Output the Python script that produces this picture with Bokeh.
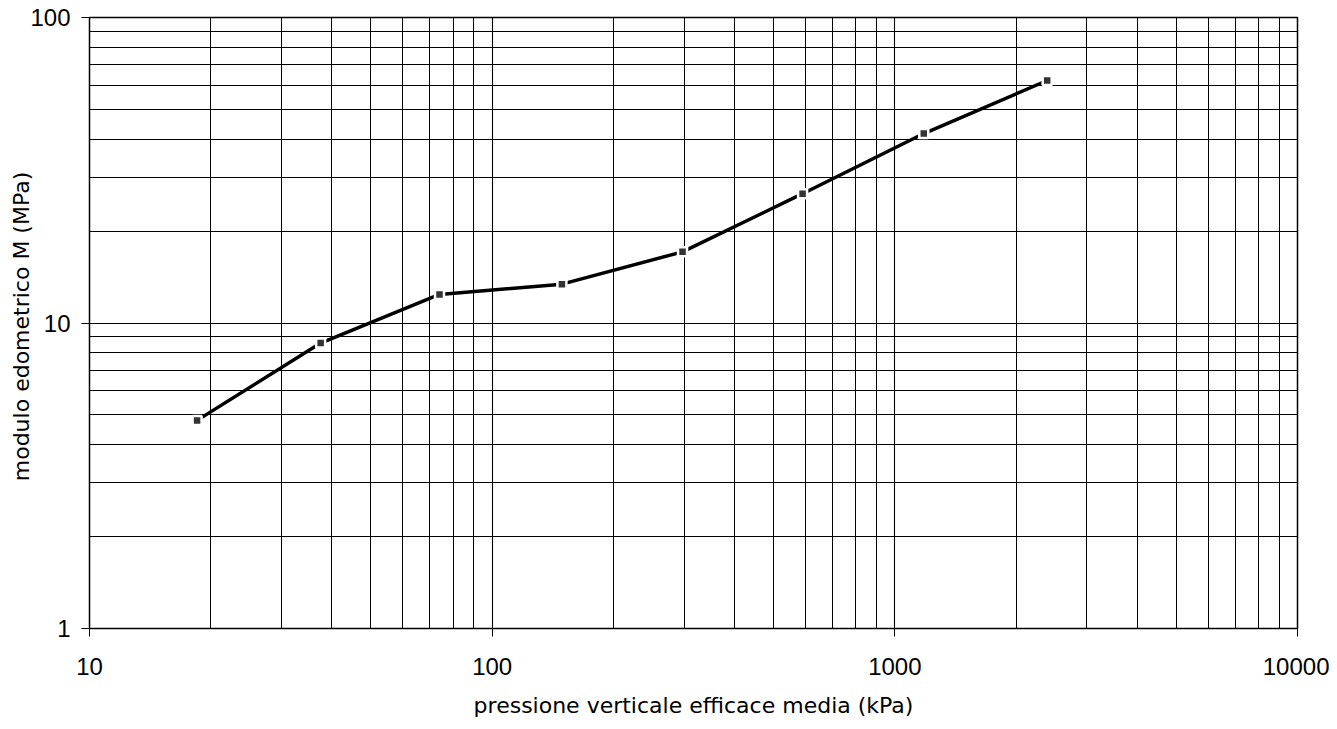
from bokeh.plotting import figure
from bokeh.models import LogTicker, Range1d, PrintfTickFormatter
from bokeh.embed import file_html
from bokeh.resources import INLINE

# data
pressure_kpa = [18.5, 37.5, 74, 149, 297, 590, 1180, 2390]
modulus_mpa = [4.8, 8.6, 12.4, 13.4, 17.1, 26.5, 41.7, 62.2]

x_title = "pressione verticale efficace media (kPa)"
y_title = "modulo edometrico M  (MPa)"

TICK_FONT = "Liberation Sans"
TITLE_FONT = "DejaVu Sans"

p = figure(width=1329, height=721, x_axis_type="log", y_axis_type="log",
           x_range=Range1d(10, 10000), y_range=Range1d(1, 100),
           output_backend="svg", toolbar_location=None,
           min_border_left=89, min_border_right=32, min_border_top=17, min_border_bottom=93)

p.xaxis.ticker = LogTicker(num_minor_ticks=10, desired_num_ticks=4)
p.yaxis.ticker = LogTicker(num_minor_ticks=10, desired_num_ticks=3)
p.xaxis.formatter = PrintfTickFormatter(format="%d")
p.yaxis.formatter = PrintfTickFormatter(format="%d")

for g in (p.xgrid, p.ygrid):
    g.grid_line_color = "black"
    g.grid_line_width = 1.1
    g.minor_grid_line_color = "black"
    g.minor_grid_line_width = 1.0

p.outline_line_color = "black"
p.outline_line_width = 1.5
p.background_fill_color = "white"
p.border_fill_color = "white"

for ax in (p.xaxis, p.yaxis):
    ax.axis_line_color = "black"
    ax.major_tick_out = 8
    ax.major_tick_in = 0
    ax.minor_tick_out = 0
    ax.minor_tick_in = 0
    ax.major_tick_line_color = "black"
    ax.major_label_text_font = TICK_FONT
    ax.major_label_text_font_size = "24px"
    ax.major_label_text_color = "black"
    ax.axis_label_text_font = TITLE_FONT
    ax.axis_label_text_font_style = "normal"
    ax.axis_label_text_color = "black"
    ax.axis_label_text_font_size = "22px"

p.xaxis.axis_label = x_title
p.yaxis.axis_label = y_title
p.xaxis.major_label_standoff = 21
p.xaxis.axis_label_standoff = 15
p.yaxis.major_label_standoff = 11
p.yaxis.axis_label_standoff = -7

p.line(pressure_kpa, modulus_mpa, line_color="black", line_width=3.5)
p.scatter(pressure_kpa, modulus_mpa, marker="square", size=9,
          fill_color="#333333", line_color="white", line_width=2.5)

open("out.html", "w").write(file_html(p, INLINE))
